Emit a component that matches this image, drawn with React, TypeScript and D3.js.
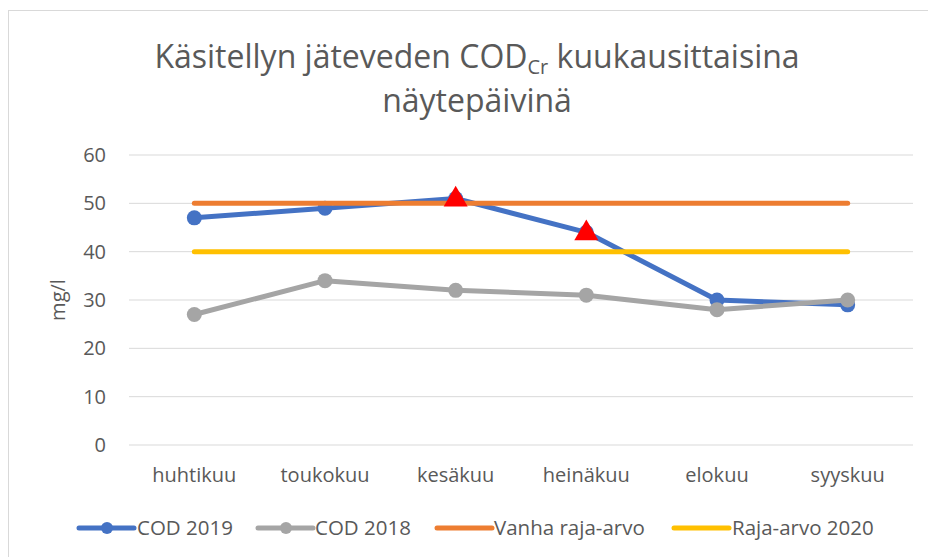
import React from 'react';
import * as d3 from 'd3';

const MONTHS = ['huhtikuu', 'toukokuu', 'kesäkuu', 'heinäkuu', 'elokuu', 'syyskuu'];
const COD_2019 = [47, 49, 51, 44, 30, 29];
const COD_2018 = [27, 34, 32, 31, 28, 30];
const VANHA_RAJA = [50, 50, 50, 50, 50, 50];
const RAJA_2020 = [40, 40, 40, 40, 40, 40];
// months where COD 2019 exceeded the new limit (red triangles)
const OVER_LIMIT = ['kesäkuu', 'heinäkuu'];
const Y_TICKS = [0, 10, 20, 30, 40, 50, 60];

const SERIES = [
  { name: 'COD 2019', values: COD_2019, color: '#4472C4', marker: true },
  { name: 'COD 2018', values: COD_2018, color: '#A5A5A5', marker: true },
  { name: 'Vanha raja-arvo', values: VANHA_RAJA, color: '#ED7D31', marker: false },
  { name: 'Raja-arvo 2020', values: RAJA_2020, color: '#FFC000', marker: false },
];

const FONT = '"Open Sans", "Noto Sans", sans-serif';
const TEXT = '#595959';

const W = 928;
const H = 557;
const plot = { left: 129, right: 913, top: 155, bottom: 445 };

export default function App() {
  const x = d3.scaleBand().domain(MONTHS).range([plot.left, plot.right]);
  const cx = (m: string) => (x(m) ?? 0) + x.bandwidth() / 2;
  const y = d3.scaleLinear().domain([0, 60]).range([plot.bottom, plot.top]);

  const line = d3
    .line<number>()
    .x((_, i) => cx(MONTHS[i]))
    .y((d) => y(d));

  const tri = d3.symbol().type(d3.symbolTriangle).size(250);

  const legendItems = [
    { x: 79, textX: 137 },
    { x: 258, textX: 315 },
    { x: 437, textX: 494 },
    { x: 674, textX: 732 },
  ];
  const legendY = 528;

  return (
    <svg
      width={W}
      height={H}
      style={{ position: 'absolute', left: 0, top: 0, background: '#fff' }}
      fontFamily={FONT}
    >
      <rect x={8.5} y={10.5} width={W} height={H} fill="#fff" stroke="#D9D9D9" />

      <text x={477} y={68} textAnchor="middle" fontSize={32} fill={TEXT}>
        Käsitellyn jäteveden COD
        <tspan fontSize={20} dy={6}>Cr</tspan>
        <tspan dy={-6}> kuukausittaisina</tspan>
      </text>
      <text x={477} y={112} textAnchor="middle" fontSize={32} fill={TEXT}>
        näytepäivinä
      </text>

      {Y_TICKS.map((t) => (
        <g key={t}>
          <line x1={plot.left} x2={plot.right} y1={y(t)} y2={y(t)} stroke="#D9D9D9" strokeWidth={1} />
          <text x={106} y={y(t)} dy="0.35em" textAnchor="end" fontSize={20} fill={TEXT}>
            {t}
          </text>
        </g>
      ))}

      <text
        transform={`translate(58,300) rotate(-90)`}
        textAnchor="middle"
        dy="0.35em"
        fontSize={20}
        fill={TEXT}
      >
        mg/l
      </text>

      {MONTHS.map((m) => (
        <text key={m} x={cx(m)} y={482} textAnchor="middle" fontSize={20} fill={TEXT}>
          {m}
        </text>
      ))}

      {SERIES.map((s) => (
        <g key={s.name}>
          <path
            d={line(s.values) ?? ''}
            fill="none"
            stroke={s.color}
            strokeWidth={5}
            strokeLinecap="round"
            strokeLinejoin="round"
          />
          {s.marker &&
            s.values.map((v, i) => (
              <circle key={i} cx={cx(MONTHS[i])} cy={y(v)} r={7.5} fill={s.color} />
            ))}
        </g>
      ))}

      {OVER_LIMIT.map((m) => {
        const i = MONTHS.indexOf(m);
        return (
          <path
            key={m}
            d={tri() ?? ''}
            transform={`translate(${cx(m)},${y(COD_2019[i]) + 1})`}
            fill="#FF0000"
          />
        );
      })}

      {SERIES.map((s, i) => {
        const it = legendItems[i];
        return (
          <g key={s.name}>
            <line
              x1={it.x}
              x2={it.x + 55}
              y1={legendY}
              y2={legendY}
              stroke={s.color}
              strokeWidth={5}
              strokeLinecap="round"
            />
            {s.marker && <circle cx={it.x + 28} cy={legendY} r={6} fill={s.color} />}
            <text x={it.textX} y={legendY} dy="0.35em" fontSize={20.5} fill={TEXT}>
              {s.name}
            </text>
          </g>
        );
      })}
    </svg>
  );
}
